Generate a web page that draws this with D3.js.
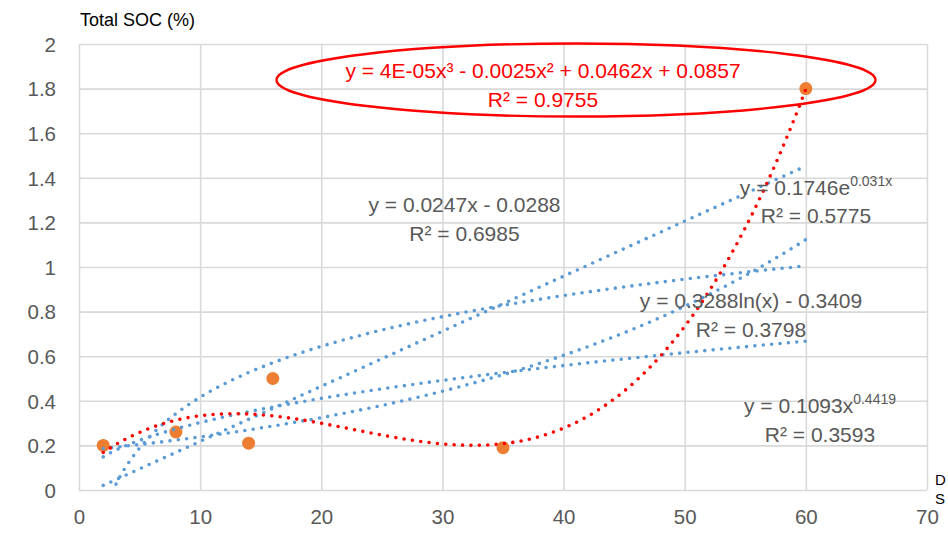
<!DOCTYPE html>
<html><head><meta charset="utf-8">
<script src="https://cdn.jsdelivr.net/npm/d3@7"></script>
<style>body{margin:0;background:#fff}svg{display:block}text{font-family:"Liberation Sans",Arial,sans-serif}</style>
</head><body><svg id="c" width="948" height="540"></svg>
<script>
// ---- data ----
const depthX = [2, 8, 14, 16, 35, 60];
const socY = [0.2, 0.26, 0.21, 0.5, 0.19, 1.8];
const xTicks = [0, 10, 20, 30, 40, 50, 60, 70];
const yTicks = [0, 0.2, 0.4, 0.6, 0.8, 1, 1.2, 1.4, 1.6, 1.8, 2];
const yTickLabels = ["0", "0.2", "0.4", "0.6", "0.8", "1", "1.2", "1.4", "1.6", "1.8", "2"];
const yTitle = "Total SOC (%)";
const xTitleLines = ["D", "S"];
const linearLabel = ["y = 0.0247x - 0.0288", "R² = 0.6985"];
const expLabel = ["y = 0.1746e", "0.031x", "R² = 0.5775"];
const logLabel = ["y = 0.3288ln(x) - 0.3409", "R² = 0.3798"];
const powLabel = ["y = 0.1093x", "0.4419", "R² = 0.3593"];
const polyLabel = ["y = 4E-05x³ - 0.0025x² + 0.0462x + 0.0857", "R² = 0.9755"];

// ---- least-squares helpers (trendlines fitted from the data, as the spreadsheet does) ----
function polyfit(xs, ys, deg) {
  const n = deg + 1;
  const A = Array.from({length: n}, () => new Array(n + 1).fill(0));
  for (let k = 0; k < xs.length; k++) {
    for (let i = 0; i < n; i++) {
      for (let j = 0; j < n; j++) A[i][j] += Math.pow(xs[k], i + j);
      A[i][n] += ys[k] * Math.pow(xs[k], i);
    }
  }
  for (let i = 0; i < n; i++) {
    let p = i;
    for (let r = i + 1; r < n; r++) if (Math.abs(A[r][i]) > Math.abs(A[p][i])) p = r;
    [A[i], A[p]] = [A[p], A[i]];
    for (let r = 0; r < n; r++) {
      if (r === i) continue;
      const f = A[r][i] / A[i][i];
      for (let c = i; c <= n; c++) A[r][c] -= f * A[i][c];
    }
  }
  return A.map((row, i) => row[n] / row[i]);
}
const lin = polyfit(depthX, socY, 1);
const cub = polyfit(depthX, socY, 3);
const ex = polyfit(depthX, socY.map(Math.log), 1);
const lg = polyfit(depthX.map(Math.log), socY, 1);
const pw = polyfit(depthX.map(Math.log), socY.map(Math.log), 1);
const fLin = x => lin[0] + lin[1] * x;
const fCub = x => cub[0] + cub[1] * x + cub[2] * x * x + cub[3] * x * x * x;
const fExp = x => Math.exp(ex[0]) * Math.exp(ex[1] * x);
const fLog = x => lg[0] + lg[1] * Math.log(x);
const fPow = x => Math.exp(pw[0]) * Math.pow(x, pw[1]);

// ---- chart ----
const svg = d3.select("#c");
const L = 79, R = 927, T = 44, B = 490;
const x = d3.scaleLinear().domain([0, 70]).range([L, R]);
const y = d3.scaleLinear().domain([0, 2]).range([B, T]);
const grid = "#d9d9d9", txt = "#595959";

svg.append("defs").append("clipPath").attr("id", "pc")
  .append("rect").attr("x", L).attr("y", T).attr("width", R - L).attr("height", B - T);

const gy = svg.append("g").attr("transform", `translate(${L},0)`)
  .call(d3.axisLeft(y).tickValues(yTicks).tickSize(-(R - L)).tickPadding(22)
    .tickFormat((d, i) => yTickLabels[i]));
const gx = svg.append("g").attr("transform", `translate(0,${B})`)
  .call(d3.axisBottom(x).tickValues(xTicks).tickSize(-(B - T)).tickPadding(22));
[gx, gy].forEach(g => {
  g.select(".domain").remove();
  g.selectAll("line").attr("stroke", grid).attr("stroke-width", 1.6);
  g.selectAll("text").attr("fill", txt).style("font-size", "20.5px")
    .style("font-family", '"Liberation Sans",Arial,sans-serif');
});
gy.selectAll("text").attr("dy", "0.36em").attr("x", -23);
gx.selectAll("text").attr("dy", "0.75em").attr("y", 19);

// markers
svg.append("g").selectAll("circle").data(depthX).join("circle")
  .attr("cx", d => x(d)).attr("cy", (d, i) => y(socY[i])).attr("r", 6.5).attr("fill", "#ED7D31");

// trendlines
const xs = d3.range(0, 401).map(i => 2 + (60 - 2) * i / 400);
const line = d3.line().x(d => x(d[0])).y(d => y(d[1]));
const tl = svg.append("g").attr("clip-path", "url(#pc)");
function trend(f, color) {
  tl.append("path").attr("d", line(xs.map(v => [v, f(v)])))
    .attr("fill", "none").attr("stroke", color).attr("stroke-width", 3.6)
    .attr("stroke-linecap", "round").attr("stroke-dasharray", "0 8.4");
}
trend(fLin, "#5B9BD5");
trend(fExp, "#5B9BD5");
trend(fLog, "#5B9BD5");
trend(fPow, "#5B9BD5");
trend(fCub, "#FF0000");

// labels
const FS = "21px";
function label2(lines, cx, y1, y2, color, sup) {
  const t = svg.append("text").attr("x", cx).attr("y", y1).attr("text-anchor", "middle")
    .attr("fill", color).style("font-size", FS);
  if (sup) {
    t.append("tspan").text(lines[0]);
    t.append("tspan").text(lines[1]).style("font-size", "14px").attr("dy", -9);
    svg.append("text").attr("x", cx).attr("y", y2).attr("text-anchor", "middle")
      .attr("fill", color).style("font-size", FS).text(lines[2]);
  } else {
    t.text(lines[0]);
    svg.append("text").attr("x", cx).attr("y", y2).attr("text-anchor", "middle")
      .attr("fill", color).style("font-size", FS).text(lines[1]);
  }
}
label2(linearLabel, 464.5, 212, 241, txt, false);
label2(expLabel, 816, 195, 223, txt, true);
label2(logLabel, 751, 308, 337, txt, false);
label2(powLabel, 820, 413, 442, txt, true);
label2(polyLabel, 543, 78, 107, "#FF0000", false);

svg.append("ellipse").attr("cx", 576).attr("cy", 80).attr("rx", 299.5).attr("ry", 36.5)
  .attr("fill", "none").attr("stroke", "#FF0000").attr("stroke-width", 2.4);

// titles
svg.append("text").attr("x", 80).attr("y", 26).attr("fill", "#000").style("font-size", "18px").text(yTitle);
svg.append("text").attr("x", 935).attr("y", 485).attr("fill", "#000").style("font-size", "15px").text(xTitleLines[0]);
svg.append("text").attr("x", 935).attr("y", 504).attr("fill", "#000").style("font-size", "15px").text(xTitleLines[1]);
</script></body></html>
